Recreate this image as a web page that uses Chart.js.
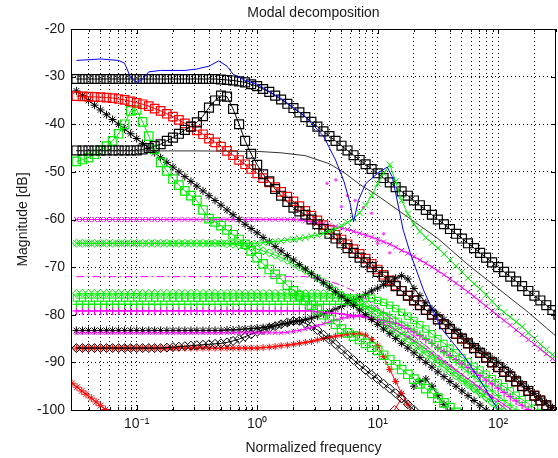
<!DOCTYPE html>
<html>
<head>
<meta charset="utf-8">
<script src="https://cdn.jsdelivr.net/npm/chart.js@4.4.1/dist/chart.umd.min.js"></script>
<style>
  html, body { margin: 0; padding: 0; background: #fff; }
  #wrap { width: 558px; height: 458px; }
</style>
</head>
<body>
<div id="wrap"><canvas id="chart" width="558" height="458"></canvas></div>
<script>
// Modal decomposition - magnitude of each mode vs normalized frequency

// fine frequency grid for the marker series (1/20 decade, 10^-1.5 .. 10^2.5)
const FINE = [0.0316, 0.0355, 0.0398, 0.0447, 0.0501, 0.0562, 0.0631, 0.0708, 0.0794, 0.0891,
  0.1, 0.112, 0.126, 0.141, 0.158, 0.178, 0.2, 0.224, 0.251, 0.282,
  0.316, 0.355, 0.398, 0.447, 0.501, 0.562, 0.631, 0.708, 0.794, 0.891,
  1, 1.12, 1.26, 1.41, 1.58, 1.78, 2, 2.24, 2.51, 2.82,
  3.16, 3.55, 3.98, 4.47, 5.01, 5.62, 6.31, 7.08, 7.94, 8.91,
  10, 11.2, 12.6, 14.1, 15.8, 17.8, 20, 22.4, 25.1, 28.2,
  31.6, 35.5, 39.8, 44.7, 50.1, 56.2, 63.1, 70.8, 79.4, 89.1,
  100, 112, 126, 141, 158, 178, 200, 224, 251, 282,
  316];
// coarse grid for the plain lines (1/10 decade)
const FREQ = [0.0316, 0.0398, 0.0501, 0.0631, 0.0794, 0.1, 0.126, 0.158, 0.2, 0.251,
  0.316, 0.398, 0.501, 0.631, 0.794, 1, 1.26, 1.58, 2, 2.51,
  3.16, 3.98, 5.01, 6.31, 7.94, 10, 12.6, 15.8, 20, 25.1,
  31.6, 39.8, 50.1, 63.1, 79.4, 100, 126, 158, 200, 251, 316];

const N = null;

// black squares, flat then rolling off
const SQ_K_MAIN = [-30.5, -30.5, -30.5, -30.5, -30.5, -30.5, -30.5, -30.5, -30.5, -30.5,
  -30.5, -30.5, -30.5, -30.5, -30.5, -30.5, -30.5, -30.5, -30.5, -30.5,
  -30.5, -30.5, -30.5, -30.5, -30.6, -30.7, -30.8, -31, -31.2, -31.6,
  -32, -32.6, -33.2, -34, -34.8, -35.7, -36.6, -37.5, -38.5, -39.5,
  -40.5, -41.5, -42.5, -43.5, -44.5, -45.5, -46.5, -47.5, -48.4, -49.4,
  -50.3, -51.3, -52.2, -53.2, -54.1, -55, -56, -57, -58, -59,
  -60, -61, -62, -63, -64, -65, -66, -67, -68, -69,
  -70, -71, -72, -73, -74, -75, -76, -77, -78, -79,
  -80];
// black squares, resonance near 0.5
const SQ_K_RES = [-45.5, -45.5, -45.5, -45.5, -45.5, -45.5, -45.5, -45.5, -45.5, -45.5,
  -45.5, -45.3, -45, -44.6, -44.2, -43.5, -42.8, -42, -41.2, -40.5,
  -39.6, -38.3, -36.5, -35, -34, -34.2, -36.8, -40, -43.5, -46.2,
  -48.5, -50.5, -52, -53.6, -55, -56.3, -57.5, -58.3, -59, -60,
  -61, -62, -63, -64, -65, -66, -67, -68, -69, -70,
  -71, -72, -73, -74, -75, -76, -77, -78, -79, -80,
  -81, -82, -83, -84, -85, -86, -87, -88, -89, -90,
  -91, -92, -93, -94, -95, -96, -97, -98, -99, -100,
  -101];
// red squares
const SQ_R = [-34.1, -34.15, -34.2, -34.25, -34.3, -34.4, -34.5, -34.7, -34.9, -35.2,
  -35.5, -35.8, -36.2, -36.7, -37.2, -37.8, -38.4, -39.1, -39.8, -40.5,
  -41.3, -42.1, -43, -43.8, -44.7, -45.6, -46.5, -47.5, -48.4, -49.4,
  -50.3, -51.3, -52.2, -53.2, -54.2, -55.2, -56.2, -57.2, -58.2, -59.2,
  -60.2, -61.2, -62.2, -63.2, -64.2, -65.2, -66.2, -67.2, -68.2, -69.3,
  -70.5, -71.6, -72.8, -73.9, -75, -76, -77, -78, -79, -80,
  -81, -82, -83, -84, -85, -86, -87, -88, -89, -90,
  -91, -92, -93, -94, -95, -96, -97, -98, -99, -100,
  -101];
// green squares, resonance near 0.09
const SQ_G = [-47.8, -47.4, -47, -46.3, -45.5, -44.6, -43.5, -42, -40, -37.2,
  -37, -39.5, -42.5, -45.3, -48, -49.8, -51.5, -52.8, -54, -55,
  -56, -58, -59.8, -60.5, -61.3, -62.2, -63.2, -64.2, -65.2, -66.6,
  -68, -69.3, -70.5, -71.5, -72.5, -73.8, -75, -76, -77, -78,
  -79, -80, -81, -82, -83, -83.8, -84.5, -85.2, -86, -86.8,
  -87.5, -88.5, -89.5, -90.5, -91.5, -92.5, -93.5, -94.5, -95.5, -96.5,
  -97.5, -98.5, -99.5, -100.5, N, N, N, N, N, N,
  N, N, N, N, N, N, N, N, N, N,
  N];
// green squares, low band
const SQ_G2 = [-76.5, -76.5, -76.5, -76.5, -76.5, -76.5, -76.5, -76.5, -76.5, -76.5,
  -76.5, -76.5, -76.5, -76.5, -76.5, -76.5, -76.5, -76.5, -76.5, -76.5,
  -76.5, -76.5, -76.5, -76.5, -76.5, -76.5, -76.5, -76.5, -76.5, -76.5,
  -76.5, -76.5, -76.5, -76.5, -76.5, -76.5, -76.5, -76.5, -76.5, -76.5,
  -76.5, -76.5, -76.5, -76.5, -76.5, -76.5, -76.5, -76.5, -76.5, -76.5,
  -77, -77.4, -78, -78.7, -79.5, -80.3, -81.2, -82.1, -83, -84,
  -85, -86, -87, -88, -89, -89.9, -90.8, -91.6, -92.5, -93.4,
  -94.3, -95.1, -96, -96.9, -97.8, -98.7, -99.6, -100.5, N, N,
  N];
// magenta x at -60
const X_M = [-60, -60, -60, -60, -60, -60, -60, -60, -60, -60,
  -60, -60, -60, -60, -60, -60, -60, -60, -60, -60,
  -60, -60, -60, -60, -60, -60, -60, -60, -60, -60,
  -60, -60, -60, -60, -60, -60, -60, -60.1, -60.3, -60.5,
  -60.7, -60.9, -61.2, -61.5, -61.8, -62.1, -62.5, -62.9, -63.3, -63.7,
  -64.2, -64.7, -65.2, -65.8, -66.5, -67.1, -67.8, -68.5, -69.2, -70,
  -70.8, -71.6, -72.5, -73.4, -74.3, -75.2, -76.2, -77.2, -78.2, -79.2,
  -80.2, -81.2, -82.2, -83.2, -84.2, -85.2, -86.2, -87.2, -88.2, -89.2,
  -90.2];
// green x, resonance near 12
const X_G = [-65, -65, -65, -65, -65, -65, -65, -65, -65, -65,
  -65, -65, -65, -65, -65, -65, -65, -65, -65, -65,
  -65, -65, -65, -65, -65, -65, -65, -65, -65, -65,
  -65, -64.9, -64.8, -64.6, -64.5, -64.3, -64.2, -64, -63.8, -63.5,
  -63.3, -62.9, -62.5, -62, -61.3, -60.6, -59.8, -58.6, -57, -55,
  -52.5, -50.3, -48.5, -52, -56, -58.8, -61, -62.5, -63.8, -64.9,
  -66, -67.2, -68.5, -69.8, -71, -72.3, -73.5, -74.6, -75.8, -77.2,
  -78.5, -79.5, -80.5, -81.5, -82.5, -83.8, -85, -86.2, -87.3, -88.4,
  -89.5];
// green diamonds at -65
const D_G = [-65, -65, -65, -65, -65, -65, -65, -65, -65, -65,
  -65, -65, -65, -65, -65, -65, -65, -65, -65, -65,
  -65, -65, -65, -65, -65, -65.1, -65.2, -65.4, -65.6, -65.9,
  -66.2, -66.6, -67, -67.5, -68, -68.6, -69.3, -70, -70.7, -71.5,
  -72.3, -73.1, -74, -74.9, -75.8, -76.7, -77.6, -78.5, -79.4, -80.3,
  -81.2, -82.1, -83, -83.9, -84.8, -85.7, -86.6, -87.5, -88.4, -89.3,
  -90.2, -91.1, -92, -92.9, -93.8, -94.7, -95.6, -96.5, -97.4, -98.4,
  -99.4, -100.4, N, N, N, N, N, N, N, N,
  N];
// green diamonds at -75.5
const D_G2 = [-75.5, -75.5, -75.5, -75.5, -75.5, -75.5, -75.5, -75.5, -75.5, -75.5,
  -75.5, -75.5, -75.5, -75.5, -75.5, -75.5, -75.5, -75.5, -75.5, -75.5,
  -75.5, -75.5, -75.5, -75.5, -75.5, -75.5, -75.5, -75.5, -75.5, -75.5,
  -75.5, -75.5, -75.5, -75.5, -75.5, -75.5, -75.5, -75.5, -75.5, -75.5,
  -75.5, -75.5, -75.5, -75.7, -76, -76.4, -76.8, -77.4, -78, -78.7,
  -79.5, -80.4, -81.3, -82.3, -83.3, -84.3, -85.3, -86.3, -87.3, -88.3,
  -89.3, -90.3, -91.3, -92.3, -93.3, -94.3, -95.3, -96.3, -97.3, -98.3,
  -99.3, -100.3, N, N, N, N, N, N, N, N,
  N];
// green + at -77.8
const P_G = [-77.8, -77.8, -77.8, -77.8, -77.8, -77.8, -77.8, -77.8, -77.8, -77.8,
  -77.8, -77.8, -77.8, -77.8, -77.8, -77.8, -77.8, -77.8, -77.8, -77.8,
  -77.8, -77.8, -77.8, -77.8, -77.8, -77.8, -77.8, -77.8, -77.8, -77.8,
  -77.8, -77.8, -77.8, -77.8, -77.8, -77.8, -77.8, -77.8, -77.8, -77.8,
  -77.8, -77.8, -77.8, -77.8, -77.8, -77.8, -77.8, -78, -78.3, -78.6,
  -79, -79.5, -80, -80.7, -81.5, -82.3, -83.2, -84.1, -85, -86,
  -87, -88, -89, -90, -91, -92, -93, -94, -95, -96,
  -97, -98, -99, -100, -101, N, N, N, N, N,
  N];
// magenta + at -79.2
const P_M = [-79.2, -79.2, -79.2, -79.2, -79.2, -79.2, -79.2, -79.2, -79.2, -79.2,
  -79.2, -79.2, -79.2, -79.2, -79.2, -79.2, -79.2, -79.2, -79.2, -79.2,
  -79.2, -79.2, -79.2, -79.2, -79.2, -79.2, -79.2, -79.2, -79.2, -79.2,
  -79.2, -79.2, -79.2, -79.2, -79.2, -79.2, -79.2, -79.2, -79.2, -79.2,
  -79.4, -79.5, -79.6, -79.7, -79.8, -80, -80.2, -80.3, -80.5, -80.7,
  -81, -81.2, -81.5, -81.8, -82.2, -82.9, -83.6, -84.4, -85.2, -86,
  -86.9, -87.7, -88.6, -89.4, -90.3, -91.1, -92, -92.8, -93.7, -94.5,
  -95.4, -96.3, -97.2, -98.1, -99, -99.9, -100.8, N, N, N,
  N];
// magenta x at -83.8
const X_M2 = [-83.8, -83.8, -83.8, -83.8, -83.8, -83.8, -83.8, -83.8, -83.8, -83.8,
  -83.8, -83.8, -83.8, -83.8, -83.8, -83.8, -83.8, -83.8, -83.8, -83.8,
  -83.8, -83.8, -83.8, -83.8, -83.8, -83.8, -83.8, -83.8, -83.8, -83.8,
  -83.8, -83.8, -83.8, -83.8, -83.8, -83.7, -83.5, -83.3, -83, -82.7,
  -82.3, -81.9, -81.5, -81.1, -80.8, -80.5, -80.3, -80.2, -80.3, -80.7,
  -81.3, -81.9, -82.5, -83.2, -84, -84.7, -85.5, -86.3, -87.2, -88.1,
  -89, -89.9, -90.8, -91.7, -92.6, -93.5, -94.4, -95.3, -96.2, -97.1,
  -98, -98.9, -99.8, -100.7, N, N, N, N, N, N,
  N];
// black stars, straight fall
const ST_K = [-33, -34, -35, -36, -37, -38, -39, -40, -41, -42,
  -43, -44, -45, -46, -47, -48, -49, -50, -51, -52,
  -53, -54, -55, -56, -57, -58, -59, -60, -61, -61.9,
  -62.8, -63.8, -64.7, -65.7, -66.6, -67.6, -68.5, -69.5, -70.4, -71.4,
  -72.3, -73.3, -74.2, -75.2, -76.1, -77, -78, -79, -80, -81,
  -82, -83, -84, -85, -86, -87, -88, -89, -90, -91,
  -92, -93, -94, -95, -96, -97, -98, -99, -100, -101,
  N, N, N, N, N, N, N, N, N, N,
  N];
// black stars at -83.3, rising to a peak near 16
const ST_K2 = [-83.3, -83.3, -83.3, -83.3, -83.3, -83.3, -83.3, -83.3, -83.3, -83.3,
  -83.3, -83.3, -83.3, -83.3, -83.3, -83.3, -83.3, -83.3, -83.3, -83.3,
  -83.3, -83.3, -83.3, -83.3, -83.3, -83.2, -83.2, -83.1, -83, -82.9,
  -82.8, -82.7, -82.5, -82.3, -82, -81.8, -81.5, -81.3, -81, -80.7,
  -80.3, -79.8, -79.3, -78.8, -78.3, -77.7, -77, -76.4, -75.7, -75,
  -74.4, -73.7, -73, -72.3, -71.8, -72.5, -74.5, -76, -77.5, -78.8,
  -80, -81, -82, -83.3, -84.5, -85.5, -86.5, -87.4, -88.3, -89.2,
  -90, -91, -92, -93.3, -94.5, -95.5, -96.5, -97.5, -98.5, -99.5,
  -100.5];
// black diamonds at -87
const D_K = [-87, -87, -87, -87, -87, -87, -87, -87, -87, -87,
  -87, -87, -87, -87, -87, -86.9, -86.8, -86.7, -86.6, -86.5,
  -86.4, -86.3, -86.2, -86.1, -86, -85.8, -85.5, -85.1, -84.6, -84.1,
  -83.6, -83.2, -82.8, -82.4, -82, -81.6, -81.3, -81.3, -81.8, -82.4,
  -83.2, -84.2, -85.2, -86.2, -87.3, -88.4, -89.5, -90.6, -91.6, -92.6,
  -93.5, -94.5, -95.5, -96.5, -97.6, -98.8, -100, N, N, N,
  N, N, N, N, N, N, N, N, N, N,
  N, N, N, N, N, N, N, N, N, N,
  N];
// red stars at -87
const ST_R = [-87, -87, -87, -87, -87, -87, -87, -87, -87, -87,
  -87, -87, -87, -87, -87, -87, -87, -87, -87, -87,
  -87, -87, -87, -87, -87, -87, -87, -87, -87, -87,
  -87, -86.9, -86.8, -86.7, -86.5, -86.4, -86.2, -86, -85.8, -85.6,
  -85.3, -85, -84.8, -84.5, -84.3, -84.1, -84, -84, -84.3, -85.2,
  -86.5, -88.8, -91.5, -94, -96.5, -98.8, -101, N, N, N,
  N, N, N, N, N, N, N, N, N, N,
  N, N, N, N, N, N, N, N, N, N,
  N];

// magenta dash-dot at -72 (coarse grid)
const DD_M = [-72, -72, -72, -72, -72, -72, -72, -72, -72, -72,
  -72, -72, -72, -72, -72, -72, -72, -72, -72, -72,
  -72.5, -73, -73.8, -75, -76.7, -78.5, -80.5, -82.5, -84.5, -86.5,
  -88.5, -90.5, -92.5, -94.5, -96.5, -98.5, -100.5, N, N, N, N];

// blue solid line (own grid, follows the notches)
const BLUE_FREQ = [0.0316, 0.0501, 0.0708, 0.0794, 0.0891, 0.1, 0.112, 0.126, 0.158, 0.251,
  0.316, 0.398, 0.479, 0.562, 0.631, 0.794, 1, 1.58, 2.51, 3.55,
  4.47, 5.25, 5.89, 6.31, 6.92, 7.94, 10, 12.0, 13.2, 14.8,
  16.2, 18.6, 24.0, 33.1, 55.0, 79.4, 100];
const BLUE = [-26.6, -26.3, -26.6, -27.2, -30.2, -31.3, -30.5, -29, -28.7, -28.7,
  -28.4, -27.8, -26.7, -27.8, -29.5, -30.8, -31.6, -34.6, -38.4, -42.5,
  -47.5, -52, -56.5, -60.5, -56, -52.5, -50.3, -49, -51, -57,
  -62, -67, -74.8, -82.6, -89.5, -95.8, -100];

// thin black line
const KLINE_FREQ = [0.0316, 0.1, 0.316, 1, 1.58, 2.51, 3.98, 5.37, 7.08, 10,
  17.8, 31.6, 56.2, 100, 178, 302];
const KLINE = [-45.6, -45.6, -45.6, -45.7, -46, -46.6, -48.3, -50.3, -52.6, -55,
  -59.5, -64, -69.5, -74.5, -79.5, -84.5];

// small red stars, bottom left
const RLOW_FREQ = [0.029, 0.032, 0.035, 0.038, 0.042, 0.046, 0.05, 0.055];
const RLOW = [-94.4, -95.2, -96, -96.7, -97.5, -98.3, -99.1, -99.9];

// short black star hump near 25
const KHUMP_FREQ = [20, 22.4, 25.1, 28.2, 31.6, 35.5, 39.8];
const KHUMP = [-95, -94, -93.5, -95, -97, -98.8, -100.5];

// red diamonds near 15
const RDIA_FREQ = [13.8, 15.8];
const RDIA = [-100, -97.5];

// scattered magenta dots around 4..13
const MDOT_FREQ = [3.8, 4.5, 5.0, 5.6, 6.5, 7.6, 8.9, 10, 11.2, 12.6];
const MDOT = [-52.4, -51.7, -57.3, -55, -56, -57.5, -58.7, -65, -63, -67];

const X_MIN = 0.0285;
const X_MAX = 302;

const TEXT = '#1a1a1a';
Chart.defaults.font.family = "'Liberation Sans', Arial, Helvetica, sans-serif";
Chart.defaults.font.size = 14;
Chart.defaults.color = TEXT;

function toPoints(freq, vals) {
  const pts = [];
  vals.forEach((v, i) => { if (v !== null) pts.push({ x: freq[i], y: v }); });
  return pts;
}

function markers(label, vals, color, style, radius, freq = FINE, width = 1) {
  return {
    label: label,
    data: toPoints(freq, vals),
    borderColor: color,
    backgroundColor: color,
    borderWidth: 1,
    pointStyle: style,
    pointRadius: radius,
    pointBorderColor: color,
    pointBackgroundColor: 'rgba(0,0,0,0)',
    pointBorderWidth: width,
    tension: 0
  };
}

function plainLine(label, vals, freq, color, dash) {
  return {
    label: label,
    data: toPoints(freq, vals),
    borderColor: color,
    borderWidth: 1,
    borderDash: dash || [],
    pointRadius: 0,
    tension: 0
  };
}

const SUP = { '-': '\u207B', '0': '\u2070', '1': '\u00B9', '2': '\u00B2', '3': '\u00B3' };
const isDecade = (v) => Math.abs(Math.log10(v) - Math.round(Math.log10(v))) < 1e-6;

// frame + inward tick marks like the original figure
const axesBox = {
  id: 'axesBox',
  afterDatasetsDraw(chart) {
    const { ctx, chartArea: a, scales: { x, y } } = chart;
    ctx.save();
    ctx.strokeStyle = '#000';
    ctx.lineWidth = 1;
    ctx.strokeRect(Math.round(a.left) + 0.5, Math.round(a.top) + 0.5,
      Math.round(a.right - a.left) - 1, Math.round(a.bottom - a.top));
    ctx.beginPath();
    x.ticks.forEach(t => {
      const px = Math.round(x.getPixelForValue(t.value)) + 0.5;
      const len = isDecade(t.value) ? 5 : 3;
      ctx.moveTo(px, a.bottom); ctx.lineTo(px, a.bottom - len);
      ctx.moveTo(px, a.top); ctx.lineTo(px, a.top + len);
    });
    y.ticks.forEach(t => {
      const py = Math.round(y.getPixelForValue(t.value)) + 0.5;
      ctx.moveTo(a.left, py); ctx.lineTo(a.left + 5, py);
      ctx.moveTo(a.right, py); ctx.lineTo(a.right - 5, py);
    });
    ctx.stroke();
    ctx.restore();
  }
};

const mdots = markers('magenta dots', MDOT, '#ff44ff', 'circle', 1.2, MDOT_FREQ);
mdots.showLine = false;
mdots.pointBackgroundColor = '#ff44ff';

const datasets = [
  plainLine('blue', BLUE, BLUE_FREQ, '#0000ff'),
  markers('green x', X_G, '#00ee00', 'crossRot', 4.5),
  plainLine('black line', KLINE, KLINE_FREQ, '#333333'),
  mdots,
  markers('black sq 1', SQ_K_MAIN, '#000000', 'rect', 6.3, FINE, 1.2),
  markers('black sq 2', SQ_K_RES, '#000000', 'rect', 6.3, FINE, 1.2),
  markers('red sq', SQ_R, '#ff0000', 'rect', 6, FINE, 1.2),
  markers('green sq', SQ_G, '#00ee00', 'rect', 6, FINE, 1.2),
  markers('black star 1', ST_K, '#000000', 'star', 4),
  markers('magenta x 1', X_M, '#ff00ff', 'crossRot', 3.5),
  plainLine('magenta dash', DD_M, FREQ, '#ff00ff', [8, 3, 2, 3]),
  markers('green dia 1', D_G, '#00ee00', 'rectRot', 4),
  markers('green dia 2', D_G2, '#00ee00', 'rectRot', 4),
  markers('green sq 2', SQ_G2, '#00ee00', 'rect', 4.5),
  markers('green +', P_G, '#00ee00', 'cross', 4),
  markers('magenta +', P_M, '#ff00ff', 'cross', 4, FINE, 1.2),
  markers('magenta x 2', X_M2, '#ff00ff', 'crossRot', 3),
  markers('black star 2', ST_K2, '#000000', 'star', 4),
  markers('black dia', D_K, '#000000', 'rectRot', 4.5),
  markers('red star', ST_R, '#ff0000', 'star', 3.5),
  markers('red star low', RLOW, '#ff0000', 'star', 4, RLOW_FREQ),
  markers('black hump', KHUMP, '#000000', 'star', 4, KHUMP_FREQ),
  markers('red dia', RDIA, '#ff0000', 'rectRot', 4.5, RDIA_FREQ)
];

new Chart(document.getElementById('chart'), {
  type: 'line',
  data: { datasets: datasets },
  options: {
    responsive: false,
    animation: false,
    devicePixelRatio: 1,
    layout: { autoPadding: false, padding: { left: 0, right: 2, top: 0, bottom: 0 } },
    plugins: {
      legend: { display: false },
      tooltip: { enabled: false },
      title: {
        display: true,
        fullSize: false,
        text: 'Modal decomposition',
        color: TEXT,
        font: { size: 14, weight: 'normal' },
        padding: { top: 5, bottom: 7.2 }
      }
    },
    scales: {
      x: {
        type: 'logarithmic',
        min: X_MIN,
        max: X_MAX,
        afterBuildTicks: (scale) => {
          scale.ticks = scale.ticks.filter(t => {
            const m = t.value / Math.pow(10, Math.floor(Math.log10(t.value) + 1e-9));
            return Math.abs(m - Math.round(m)) < 1e-6;
          });
        },
        afterFit: (scale) => {
          scale.height = 48;
          scale.paddingLeft = 0;
          scale.paddingRight = 0;
        },
        grid: { color: '#000', lineWidth: 1, drawTicks: false },
        border: { display: false, dash: [1, 3] },
        ticks: {
          autoSkip: false,
          maxRotation: 0,
          padding: 6,
          color: TEXT,
          callback: (v) => {
            if (!isDecade(v)) return '';
            const e = String(Math.round(Math.log10(v)));
            return '10' + e.split('').map(c => SUP[c]).join('');
          }
        },
        title: {
          display: true,
          text: 'Normalized frequency',
          color: TEXT,
          font: { size: 14 },
          padding: { top: 0, bottom: 1 }
        }
      },
      y: {
        min: -100,
        max: -20,
        afterFit: (scale) => { scale.width = 71; },
        grid: { color: '#000', lineWidth: 1, drawTicks: false },
        border: { display: false, dash: [1, 3] },
        ticks: { stepSize: 10, padding: 6, color: TEXT },
        title: {
          display: true,
          text: 'Magnitude [dB]',
          color: TEXT,
          font: { size: 14 },
          padding: { top: 15, bottom: 0 }
        }
      }
    }
  },
  plugins: [axesBox]
});
</script>
</body>
</html>
